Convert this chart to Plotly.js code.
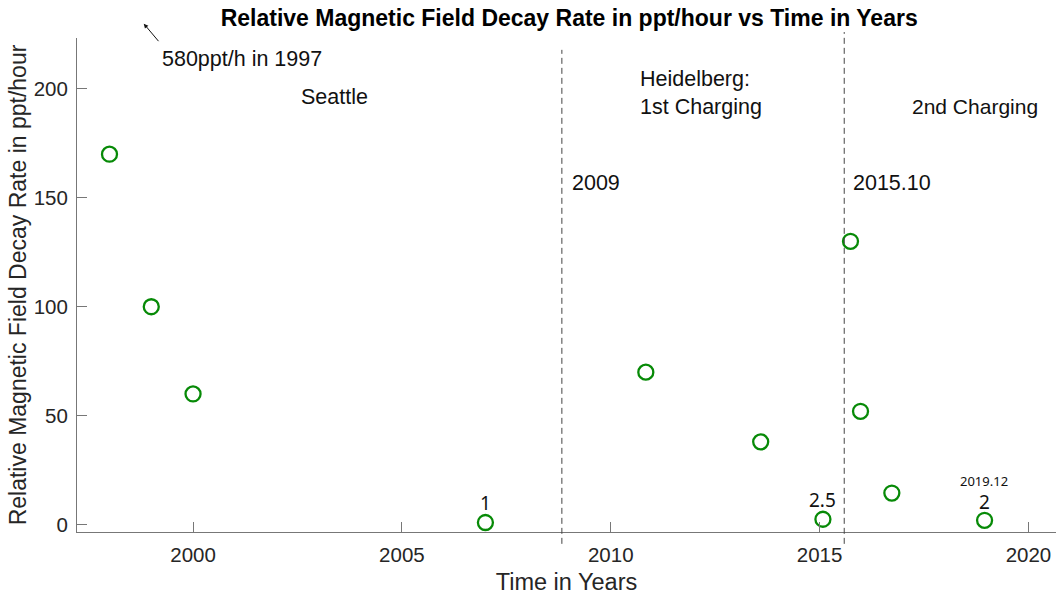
<!DOCTYPE html>
<html>
<head>
<meta charset="utf-8">
<script src="https://cdn.plot.ly/plotly-3.0.1.min.js"></script>
<style>html,body{margin:0;padding:0;background:#fff;}#chart{width:1056px;height:595px;}</style>
</head>
<body>
<div id="chart"></div>
<script>
// Data
var years = [1998, 1999, 2000, 2007, 2010.84, 2013.59, 2015.08, 2015.74, 2015.98, 2016.73, 2018.95];
var decayRate = [170, 100, 60, 1, 70, 38, 2.5, 130, 52, 14.5, 2];
var phaseBoundaries = [2008.83, 2015.59];
var xTicks = [2000, 2005, 2010, 2015, 2020];
var yTicks = [0, 50, 100, 150, 200];

var font = 'Liberation Sans, Arial, sans-serif';
var axisColor = '#777777';
var tickColor = '#262626';

var trace = {
  x: years, y: decayRate, type: 'scatter', mode: 'markers',
  marker: {symbol: 'circle-open', size: 15, color: '#078a07', line: {width: 2.3, color: '#078a07'}},
  cliponaxis: false, hoverinfo: 'x+y'
};

var shapes = [
  {type: 'line', xref: 'x', yref: 'paper', x0: phaseBoundaries[0], x1: phaseBoundaries[0], y0: -0.024, y1: 0.976,
   line: {color: '#444', width: 1, dash: '6px,4px'}},
  {type: 'line', xref: 'x', yref: 'paper', x0: phaseBoundaries[1], x1: phaseBoundaries[1], y0: -0.024, y1: 1.012,
   line: {color: '#444', width: 1, dash: '6px,4px'}}
];

function txt(text, x, y, xanchor, size, fam) {
  return {text: text, x: x, y: y, xref: 'x', yref: 'y', xanchor: xanchor || 'center', yanchor: 'middle',
          showarrow: false, align: 'left', font: {family: fam || font, size: size || 21.5, color: '#111'}};
}
var calib = 'Noto Sans, Open Sans, sans-serif';
var annotations = [
  txt('580ppt/h in 1997', 1999.22, 213.8, 'left'),
  txt('Seattle', 2003.38, 196.3),
  txt('Heidelberg:<br>1st Charging', 2010.66, 198.2, 'left'),
  txt('2nd Charging', 2017.17, 191.7, 'left', 21),
  txt('2009', 2009.03, 156.9, 'left'),
  txt('2015.10', 2015.76, 156.9, 'left'),
  txt('1', 2007.01, 10.1, 'center', 19, calib),
  txt('2.5', 2015.06, 11.5, 'center', 19, calib),
  txt('2', 2018.94, 10.6, 'center', 19, calib),
  txt('2019.12', 2018.94, 20.2, 'center', 13, calib),
  {text: '', xref: 'paper', yref: 'paper', x: 0.0682, y: 1.029, showarrow: true,
   ax: 16, ay: 19, arrowhead: 2, arrowsize: 0.9, arrowwidth: 1, arrowcolor: '#111', standoff: 0}
];

var layout = {
  width: 1056, height: 595,
  margin: {l: 77, r: 0, t: 38, b: 63},
  paper_bgcolor: '#fff', plot_bgcolor: '#fff',
  showlegend: false,
  title: {text: 'Relative Magnetic Field Decay Rate in ppt/hour vs Time in Years',
          font: {family: font, size: 23, color: '#000', weight: 'bold'},
          x: 0.539, xanchor: 'center', y: 0.97, yanchor: 'middle'},
  xaxis: {range: [1997.222, 2020.66], tickvals: xTicks, ticktext: xTicks.map(String),
          ticks: 'inside', ticklen: 10, tickcolor: axisColor, tickwidth: 1,
          showline: true, linecolor: axisColor, linewidth: 1, showgrid: false, zeroline: false,
          tickfont: {family: font, size: 20.5, color: tickColor}, ticklabelstandoff: 4,
          title: {text: 'Time in Years', font: {family: font, size: 23.5, color: tickColor}, standoff: 8}},
  yaxis: {range: [-3.35, 223.3], tickvals: yTicks, ticktext: yTicks.map(String),
          ticks: 'inside', ticklen: 10, tickcolor: axisColor, tickwidth: 1,
          showline: true, linecolor: axisColor, linewidth: 1, showgrid: false, zeroline: false,
          tickfont: {family: font, size: 20.5, color: tickColor}, ticklabelstandoff: 4,
          title: {text: 'Relative Magnetic Field Decay Rate in ppt/hour', font: {family: font, size: 23, color: tickColor}, standoff: 0}},
  shapes: shapes,
  annotations: annotations
};

Plotly.newPlot('chart', [trace], layout, {displayModeBar: false, staticPlot: true});
</script>
</body>
</html>
